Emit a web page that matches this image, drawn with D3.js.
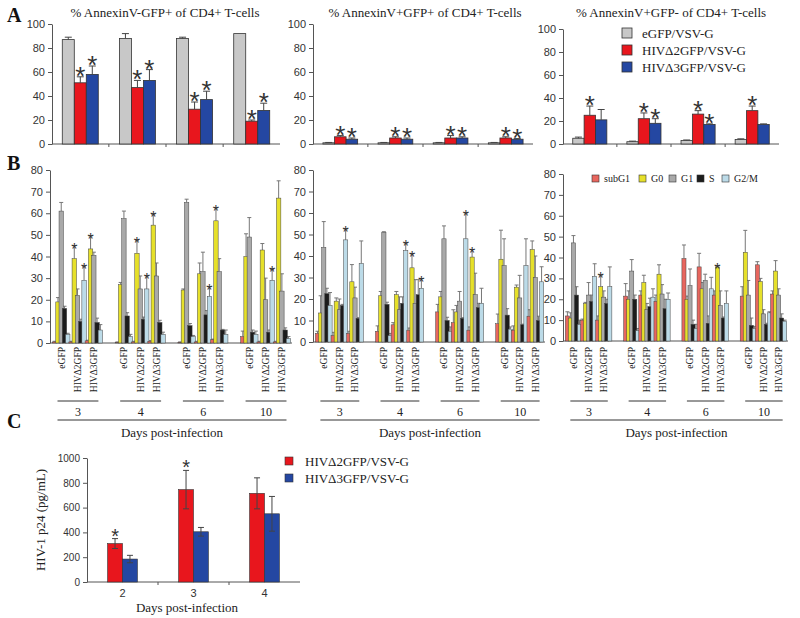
<!DOCTYPE html>
<html>
<head>
<meta charset="utf-8">
<title>Apoptosis, cell cycle and p24</title>
<script src="https://d3js.org/d3.v7.min.js"></script>
<style>
  body { margin: 0; background: #fff; }
</style>
</head>
<body>
<svg width="800" height="618"></svg>
<script>
const svg = d3.select("svg");
const sans = "'Liberation Sans', Arial, sans-serif";
const serif = "'Liberation Serif', 'Times New Roman', serif";

// ---------- shared categories ----------
const days = ["3", "4", "6", "10"];
const vectors = ["eGFP/VSV-G", "HIVΔ2GFP/VSV-G", "HIVΔ3GFP/VSV-G"];
const vectorColors = ["#c8c8c8", "#e8161d", "#2447a2"];

// ---------- panel A : [day][eGFP, Δ2, Δ3] ----------
const gfpPosAnx = [[87, 51, 58], [88, 47, 53], [88, 29, 37], [92, 19, 28]];
const gfpPosAnxErr = [[2, 5, 7], [4, 6, 9], [1, 6, 7], [0, 1, 6]];
const gfpPosAnxStars = [[1, 2], [1, 2], [1, 2], [1, 2]];

const anxGfpPos = [[1, 6, 4], [1, 5, 4], [1, 5, 5], [1, 5, 4]];
const anxGfpPosErr = [[0.3, 1, 1], [0.3, 1, 1], [0.3, 2, 1], [0.3, 1, 0.5]];
const anxGfpPosStars = [[1, 2], [1, 2], [1, 2], [1, 2]];

const anxGfpNeg = [[5, 25, 21], [2, 22, 18], [3, 26, 17], [4, 29, 17]];
const anxGfpNegErr = [[1, 8, 9], [0.5, 5, 4], [0.5, 3, 0.5], [0.5, 4, 0.5]];
const anxGfpNegStars = [[1], [1, 2], [1, 2], [1]];

// ---------- panel B : [day][condition][subG1, G0, G1, S, G2/M] ----------
const conditions = ["eGFP", "HIVΔ2GFP", "HIVΔ3GFP"];
const phases = ["subG1", "G0", "G1", "S", "G2/M"];
const phaseColors = ["#e8665e", "#e6e02a", "#a9a9a9", "#1c1c1c", "#bcdbe8"];

const cycle1 = [
  [[0.5, 19, 61, 16, 4], [0.5, 39, 22, 10, 29], [1, 43.5, 40.5, 9.5, 6]],
  [[0.3, 27, 57.5, 12.5, 3], [0.5, 41.5, 25, 11, 25], [0.8, 54.5, 31, 9.5, 4]],
  [[0.3, 24.5, 65, 8, 3], [0.5, 32, 33, 13, 21.5], [1.5, 56.5, 33, 6, 4]],
  [[3, 40, 49, 5, 4], [0.5, 43, 20, 5, 29], [0.5, 67, 24, 6, 2]]
];
const cycle1Err = [
  [[0.3, 2, 4, 1, 0.5], [0.3, 6, 3, 1, 6.5], [0.3, 6, 1.5, 2, 2.5]],
  [[0.2, 1, 3.5, 1.5, 1], [0.3, 6, 6, 1, 6], [0.3, 5, 6, 1, 1]],
  [[0.2, 0.5, 1.5, 1, 0.5], [0.3, 5, 9, 2, 4.5], [0.3, 6, 6, 0.3, 2]],
  [[2.5, 10.5, 9, 1, 1.5], [0.3, 3, 10, 1, 5], [0.3, 8, 8, 1, 1]]
];
// [day, condition, phase]
const cycle1Stars = [[0, 1, 1], [0, 1, 4], [0, 2, 1], [1, 1, 1], [1, 1, 4], [1, 2, 1], [2, 1, 4], [2, 2, 1], [3, 1, 4]];

const cycle2 = [
  [[4, 13.5, 44, 22.5, 17], [3, 19, 15, 17, 47.5], [4, 28, 20.5, 11, 36.5]],
  [[5, 21.5, 51, 17.5, 3], [8, 22, 15, 18, 42.5], [5.5, 34.5, 18, 22, 25]],
  [[14, 21, 48, 10, 5], [9, 14, 19, 11, 48], [5.5, 39.5, 22, 16, 18]],
  [[8.5, 38.5, 35.5, 12.5, 6], [5.5, 25.5, 20.5, 8, 35.5], [12, 43, 30, 10, 28]]
];
const cycle2Err = [
  [[1, 8, 12, 2.5, 6], [1.5, 1.5, 5, 0.5, 5], [1, 8, 5, 0.3, 10.5]],
  [[2.5, 2, 0.3, 1, 1], [1, 1.5, 6, 3, 3.5], [1, 6.5, 11, 7, 4.5]],
  [[3.5, 2.5, 6, 1.5, 2], [6, 3, 4.5, 0.3, 12], [1.5, 3.5, 10, 2, 7]],
  [[4.5, 13.5, 12.5, 3, 1], [2, 1, 10.5, 0.3, 12.5], [3, 4, 10, 2, 7]]
];
const cycle2Stars = [[0, 1, 4], [1, 1, 4], [1, 2, 1], [1, 2, 4], [2, 1, 4], [2, 2, 1]];

const cycle3 = [
  [[12, 11, 47, 22, 8], [10, 18, 22, 19, 31], [10, 26, 21, 18, 26]],
  [[21.5, 20, 33.5, 20, 5], [22, 28, 15, 16.5, 21], [19, 32, 22.5, 15.5, 20]],
  [[39.5, 20, 26.5, 8, 6], [35.5, 25, 29, 8.5, 25], [22, 35.5, 17, 11, 18]],
  [[21.5, 42.5, 22, 7.5, 6], [36.5, 28.5, 13, 8, 13.5], [22.5, 33.5, 22, 11, 9.5]]
];
const cycle3Err = [
  [[2, 2.5, 3.5, 4, 2], [0.5, 0.5, 6, 3, 6], [2, 5.5, 3, 2, 9.5]],
  [[6, 4, 5.5, 2, 1], [2, 3.5, 3, 4, 4], [3, 4.5, 4.5, 4.5, 3]],
  [[6.5, 1.5, 8, 2, 2], [6.5, 3, 3, 3.5, 5.5], [2, 0.5, 7, 0.5, 6]],
  [[4.5, 10.5, 7, 3.5, 1], [1.5, 1.5, 2, 0.5, 0.5], [1.5, 5, 3, 2, 0.5]]
];
const cycle3Stars = [[0, 2, 1], [2, 2, 1]];

// ---------- panel C ----------
const p24Days = ["2", "3", "4"];
const p24Series = ["HIVΔ2GFP/VSV-G", "HIVΔ3GFP/VSV-G"];
const p24Delta2 = [310, 745, 715];
const p24Delta2Err = [40, 155, 125];
const p24Delta3 = [185, 405, 550];
const p24Delta3Err = [30, 35, 140];
const p24Stars = [[0, 0], [1, 0]]; // [day, series]

// ---------- helpers ----------
function yAxis(g, y, x0, ticks, fs) {
  const ax = g.append("g").attr("transform", `translate(${x0},0)`)
    .call(d3.axisLeft(y).tickValues(ticks).tickFormat(d3.format("d")).tickSize(4).tickPadding(3).tickSizeOuter(0));
  ax.select(".domain").attr("stroke", "#555");
  ax.selectAll(".tick line").attr("stroke", "#555");
  ax.selectAll("text").attr("font-family", sans).attr("font-size", fs).attr("fill", "#333");
}

function errBars(g, cells, y, cap, color, both) {
  const eb = g.selectAll(null).data(cells.filter(c => c.e > 0)).join("g").attr("stroke", color).attr("stroke-width", 1);
  eb.append("line").attr("x1", c => c.cx).attr("x2", c => c.cx)
    .attr("y1", c => y(both ? c.v - c.e : c.v)).attr("y2", c => y(c.v + c.e));
  eb.append("line").attr("x1", c => c.cx - cap / 2).attr("x2", c => c.cx + cap / 2)
    .attr("y1", c => y(c.v + c.e)).attr("y2", c => y(c.v + c.e));
  if (both) eb.append("line").attr("x1", c => c.cx - cap / 2).attr("x2", c => c.cx + cap / 2)
    .attr("y1", c => y(c.v - c.e)).attr("y2", c => y(c.v - c.e));
}

function stars(g, cells, y, fs, dy) {
  g.selectAll(null).data(cells.filter(c => c.star)).join("text")
    .attr("x", c => c.cx).attr("y", c => y(c.v + c.e) + dy)
    .attr("text-anchor", "middle").attr("font-family", sans).attr("font-size", fs).attr("fill", "#333")
    .text("*");
}

// ---------- panel A ----------
function drawA(cfg) {
  const g = svg.append("g");
  const x = d3.scaleBand().domain(days).range([cfg.x0, cfg.x1]).paddingInner(0.37).paddingOuter(0.18);
  const xs = d3.scaleBand().domain(d3.range(vectors.length)).range([0, x.bandwidth()]);
  const y = d3.scaleLinear().domain([0, 100]).range([cfg.yb, cfg.yt]);
  yAxis(g, y, cfg.x0, d3.range(0, 101, 20), 11);
  g.append("line").attr("x1", cfg.x0).attr("x2", cfg.x1).attr("y1", y(0)).attr("y2", y(0)).attr("stroke", "#555");
  g.selectAll(null).data(days.slice(1)).join("line")
    .attr("x1", d => x(d) - x.step() * x.paddingInner() / 2).attr("x2", d => x(d) - x.step() * x.paddingInner() / 2)
    .attr("y1", y(0)).attr("y2", y(0) + 3).attr("stroke", "#555");

  const cells = days.flatMap((d, i) => vectors.map((s, j) => ({
    d, j, v: cfg.values[i][j], e: cfg.errs[i][j], star: cfg.stars[i].includes(j),
    cx: x(d) + xs(j) + xs.bandwidth() / 2
  })));
  g.selectAll(null).data(cells).join("rect")
    .attr("x", c => x(c.d) + xs(c.j)).attr("y", c => y(c.v))
    .attr("width", xs.bandwidth()).attr("height", c => y(0) - y(c.v))
    .attr("fill", c => vectorColors[c.j]).attr("stroke", "#333").attr("stroke-width", 0.8);
  errBars(g, cells, y, 7, "#444", false);
  stars(g, cells, y, 26, 8);

  g.append("text").attr("x", cfg.titleX).attr("y", 17).attr("text-anchor", "middle")
    .attr("font-family", serif).attr("font-size", 13).attr("fill", "#222").text(cfg.title);
}

drawA({ x0: 52, x1: 280, yt: 24, yb: 144, values: gfpPosAnx, errs: gfpPosAnxErr, stars: gfpPosAnxStars,
  title: "% AnnexinV-GFP+ of CD4+ T-cells", titleX: 165 });
drawA({ x0: 313, x1: 533, yt: 24, yb: 144, values: anxGfpPos, errs: anxGfpPosErr, stars: anxGfpPosStars,
  title: "% AnnexinV+GFP+ of CD4+ T-cells", titleX: 425 });
drawA({ x0: 563, x1: 779, yt: 29, yb: 144, values: anxGfpNeg, errs: anxGfpNegErr, stars: anxGfpNegStars,
  title: "% AnnexinV+GFP- of CD4+ T-cells", titleX: 671 });

// legend A
const legA = svg.append("g").attr("transform", "translate(622,28)");
vectors.forEach((s, i) => {
  legA.append("rect").attr("x", 0).attr("y", i * 17).attr("width", 10).attr("height", 10)
    .attr("fill", vectorColors[i]).attr("stroke", "#333").attr("stroke-width", 0.8);
  legA.append("text").attr("x", 20).attr("y", i * 17 + 9.5).attr("font-family", serif).attr("font-size", 13)
    .attr("fill", "#222").text(s);
});

// ---------- panel B ----------
function drawB(cfg) {
  const g = svg.append("g");
  const x = d3.scaleBand().domain(days).range([cfg.x0, cfg.x1]).paddingInner(0.22).paddingOuter(0.04);
  const xc = d3.scaleBand().domain(d3.range(conditions.length)).range([0, x.bandwidth()]);
  const xp = d3.scaleBand().domain(d3.range(phases.length)).range([0, xc.bandwidth()]);
  const y = d3.scaleLinear().domain([0, 80]).range([cfg.yb, cfg.yt]);
  const bw = xp.step() * 1.35;
  yAxis(g, y, cfg.x0, d3.range(0, 81, 10), 11);
  g.append("line").attr("x1", cfg.x0).attr("x2", cfg.x1).attr("y1", y(0)).attr("y2", y(0)).attr("stroke", "#555");

  const cells = days.flatMap((d, i) => conditions.flatMap((c, j) => phases.map((p, k) => ({
    d, j, k, v: cfg.values[i][j][k], e: cfg.errs[i][j][k],
    star: cfg.stars.some(s => s[0] === i && s[1] === j && s[2] === k),
    left: x(d) + xc(j) + xp(k)
  })))).map(c => Object.assign(c, { cx: c.left + bw / 2 }));
  errBars(g, cells, y, 4, "#777", false);
  g.selectAll(null).data(cells).join("rect")
    .attr("x", c => c.left).attr("y", c => y(c.v))
    .attr("width", bw).attr("height", c => y(0) - y(c.v))
    .attr("fill", c => phaseColors[c.k]).attr("stroke", "#444").attr("stroke-width", 0.5);
  stars(g, cells, y, 16, 9);

  // rotated condition labels
  const labs = days.flatMap(d => conditions.map((c, j) => ({ d, c, j })));
  g.selectAll(null).data(labs).join("text")
    .attr("transform", o => `translate(${x(o.d) + xc(o.j) + xc.bandwidth() / 2 + 4},347) rotate(-90)`)
    .attr("text-anchor", "end").attr("font-family", serif).attr("font-size", 9.5).attr("fill", "#222")
    .text(o => o.c);
  // day brackets
  g.selectAll(null).data(days).join("line")
    .attr("x1", d => x(d) + 5).attr("x2", d => x(d) + x.bandwidth() - 3)
    .attr("y1", 401).attr("y2", 401).attr("stroke", "#333");
  g.selectAll(null).data(days).join("text")
    .attr("x", d => x(d) + 1 + x.bandwidth() / 2).attr("y", 416).attr("text-anchor", "middle")
    .attr("font-family", serif).attr("font-size", 12).attr("fill", "#222").text(d => d);
  const l0 = x(days[0]) + 5, l1 = x(days[days.length - 1]) + x.bandwidth() - 3;
  g.append("line").attr("x1", l0).attr("x2", l1).attr("y1", 420).attr("y2", 420).attr("stroke", "#333");
  g.append("text").attr("x", (l0 + l1) / 2).attr("y", 437).attr("text-anchor", "middle")
    .attr("font-family", serif).attr("font-size", 13).attr("fill", "#222").text("Days post-infection");
}

drawB({ x0: 50, x1: 292, yt: 170, yb: 343, values: cycle1, errs: cycle1Err, stars: cycle1Stars });
drawB({ x0: 313, x1: 545, yt: 170, yb: 342, values: cycle2, errs: cycle2Err, stars: cycle2Stars });
drawB({ x0: 563, x1: 788, yt: 174, yb: 341, values: cycle3, errs: cycle3Err, stars: cycle3Stars });

// legend B
const legB = svg.append("g").attr("transform", "translate(592,175)");
const legBx = [0, 47, 77, 105, 130];
phases.forEach((p, i) => {
  legB.append("rect").attr("x", legBx[i]).attr("y", 0).attr("width", 7).attr("height", 7)
    .attr("fill", phaseColors[i]).attr("stroke", "#333").attr("stroke-width", 0.6);
  legB.append("text").attr("x", legBx[i] + 12).attr("y", 7).attr("font-family", serif).attr("font-size", 10)
    .attr("fill", "#222").text(p);
});

// ---------- panel C ----------
(function drawC() {
  const g = svg.append("g");
  const x0 = 87, x1 = 300;
  const x = d3.scaleBand().domain(p24Days).range([x0, x1]).paddingInner(0.58).paddingOuter(0.29);
  const xs = d3.scaleBand().domain([0, 1]).range([0, x.bandwidth()]);
  const y = d3.scaleLinear().domain([0, 1000]).range([582, 458]);
  yAxis(g, y, x0, d3.range(0, 1001, 200), 10);
  g.append("line").attr("x1", x0).attr("x2", x1).attr("y1", y(0)).attr("y2", y(0)).attr("stroke", "#555");
  g.selectAll(null).data(p24Days.slice(1)).join("line")
    .attr("x1", d => x(d) - x.step() * x.paddingInner() / 2).attr("x2", d => x(d) - x.step() * x.paddingInner() / 2)
    .attr("y1", y(0)).attr("y2", y(0) + 3).attr("stroke", "#555");
  const vals = [p24Delta2, p24Delta3], errs = [p24Delta2Err, p24Delta3Err];
  const cells = p24Days.flatMap((d, i) => [0, 1].map(j => ({
    d, j, v: vals[j][i], e: errs[j][i], star: p24Stars.some(s => s[0] === i && s[1] === j),
    cx: x(d) + xs(j) + xs.bandwidth() / 2
  })));
  g.selectAll(null).data(cells).join("rect")
    .attr("x", c => x(c.d) + xs(c.j)).attr("y", c => y(c.v))
    .attr("width", xs.bandwidth()).attr("height", c => y(0) - y(c.v))
    .attr("fill", c => vectorColors[c.j + 1]).attr("stroke", "#333").attr("stroke-width", 0.6);
  errBars(g, cells, y, 6, "#444", true);
  stars(g, cells, y, 20, 4);
  g.selectAll(null).data(p24Days).join("text")
    .attr("x", d => x(d) + x.bandwidth() / 2).attr("y", 597).attr("text-anchor", "middle")
    .attr("font-family", sans).attr("font-size", 11).attr("fill", "#333").text(d => d);
  g.append("text").attr("x", 187).attr("y", 612).attr("text-anchor", "middle")
    .attr("font-family", serif).attr("font-size", 13).attr("fill", "#222").text("Days post-infection");
  g.append("text").attr("transform", "translate(45,520) rotate(-90)").attr("text-anchor", "middle")
    .attr("font-family", serif).attr("font-size", 13).attr("fill", "#222").text("HIV-1 p24 (pg/mL)");
  const leg = g.append("g").attr("transform", "translate(285,457)");
  p24Series.forEach((s, i) => {
    leg.append("rect").attr("x", 0).attr("y", i * 17).attr("width", 8).attr("height", 8)
      .attr("fill", vectorColors[i + 1]).attr("stroke", "#333").attr("stroke-width", 0.6);
    leg.append("text").attr("x", 20).attr("y", i * 17 + 9).attr("font-family", serif).attr("font-size", 13)
      .attr("fill", "#222").text(s);
  });
})();

// panel letters
[["A", 22], ["B", 170], ["C", 428]].forEach(([t, yy]) => {
  svg.append("text").attr("x", 7).attr("y", yy).attr("font-family", serif).attr("font-weight", "bold")
    .attr("font-size", 20).attr("fill", "#111").text(t);
});
</script>
</body>
</html>
